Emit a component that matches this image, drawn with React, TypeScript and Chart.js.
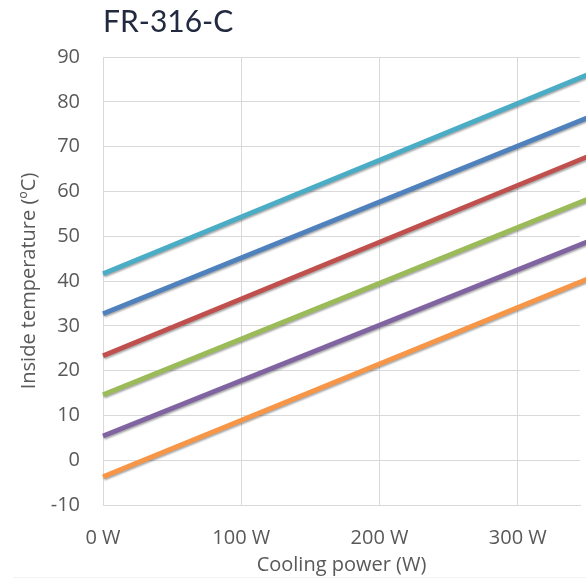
import React, { useEffect, useRef } from "react";
import { Chart, registerables } from "chart.js";

Chart.register(...registerables);

const chartTitle = "FR-316-C";
const xAxisTitle = "Cooling power (W)";
const yAxisTitle = "Inside temperature (ºC)";

const power = [0, 350];
const seriesNames = ["S1", "S2", "S3", "S4", "S5", "S6"];
const seriesColors = ["#4bacc6", "#4f81bd", "#c0504d", "#9bbb59", "#8064a2", "#f79646"];
const cyanValues = [41.6, 86.0];
const blueValues = [32.7, 76.4];
const redValues = [23.3, 67.7];
const greenValues = [14.6, 58.2];
const purpleValues = [5.4, 48.7];
const orangeValues = [-3.7, 40.4];
const seriesValues = [cyanValues, blueValues, redValues, greenValues, purpleValues, orangeValues];

const yMin = -10;
const yMax = 90;
const yStep = 10;
const xMin = 0;
const xMax = 345;
const xStep = 100;

const shadowPlugin = {
  id: "lineShadow",
  beforeDatasetsDraw(chart: any) {
    const ctx = chart.ctx;
    ctx.save();
    ctx.shadowColor = "rgba(0,0,0,0.35)";
    ctx.shadowOffsetX = 1;
    ctx.shadowOffsetY = 1.5;
    ctx.shadowBlur = 2;
  },
  afterDatasetsDraw(chart: any) {
    chart.ctx.restore();
  },
};

const frameLinePlugin = {
  id: "frameLine",
  afterDraw(chart: any) {
    const ctx = chart.ctx;
    ctx.save();
    ctx.strokeStyle = "#f2f2f2";
    ctx.lineWidth = 1;
    ctx.beginPath();
    ctx.moveTo(13, chart.height - 5.5);
    ctx.lineTo(chart.width, chart.height - 5.5);
    ctx.stroke();
    ctx.restore();
  },
};

export default function App() {
  const ref = useRef<HTMLCanvasElement | null>(null);

  useEffect(() => {
    if (!ref.current) return;
    const tickFont = { family: "'Open Sans', sans-serif", size: 20 };
    const chart = new Chart(ref.current, {
      type: "line",
      data: {
        datasets: seriesValues.map((vals, i) => ({
          label: seriesNames[i],
          data: power.map((p, j) => ({ x: p, y: vals[j] })),
          borderColor: seriesColors[i],
          backgroundColor: seriesColors[i],
          borderWidth: 4.8,
          pointRadius: 0,
          tension: 0,
          clip: false as any,
        })),
      },
      plugins: [shadowPlugin, frameLinePlugin],
      options: {
        animation: false,
        responsive: false,
        maintainAspectRatio: false,
        layout: { padding: { left: 0, right: 6, top: 0, bottom: 0 } },
        plugins: {
          legend: { display: false },
          tooltip: { enabled: false },
          title: {
            display: true,
            text: chartTitle,
            align: "start",
            fullSize: false,
            color: "#232a40",
            font: { family: "Lato, sans-serif", size: 30, weight: "normal" as any },
            padding: { top: 4, bottom: 17 },
          },
        },
        scales: {
          x: {
            type: "linear",
            min: xMin,
            max: xMax,
            grid: { color: "#d9d9d9", lineWidth: 1, drawTicks: false },
            border: { color: "#d9d9d9", width: 1 },
            afterFit: (scale: any) => {
              scale.height = 78;
            },
            ticks: {
              stepSize: xStep,
              includeBounds: false,
              color: "#595959",
              font: tickFont,
              padding: 21,
              maxRotation: 0,
              callback: (v: any) => `${v} W`,
            },
            title: {
              display: true,
              text: xAxisTitle,
              color: "#595959",
              font: tickFont,
              padding: { top: 0, bottom: 6 },
            },
          },
          y: {
            type: "linear",
            min: yMin,
            max: yMax,
            grid: { color: "#d9d9d9", lineWidth: 1, drawTicks: false },
            border: { color: "#d9d9d9", width: 1 },
            afterFit: (scale: any) => {
              scale.width = 103;
            },
            ticks: {
              stepSize: yStep,
              color: "#595959",
              font: tickFont,
              padding: 23,
            },
            title: {
              display: true,
              text: yAxisTitle,
              color: "#595959",
              font: tickFont,
              padding: { top: 17, bottom: 0 },
            },
          },
        },
      },
    });
    return () => chart.destroy();
  }, []);

  return (
    <div style={{ position: "absolute", left: 0, top: 0, width: 586, height: 583, overflow: "hidden", background: "#fff" }}>
      <canvas ref={ref} width={586} height={583} style={{ display: "block" }} />
    </div>
  );
}
